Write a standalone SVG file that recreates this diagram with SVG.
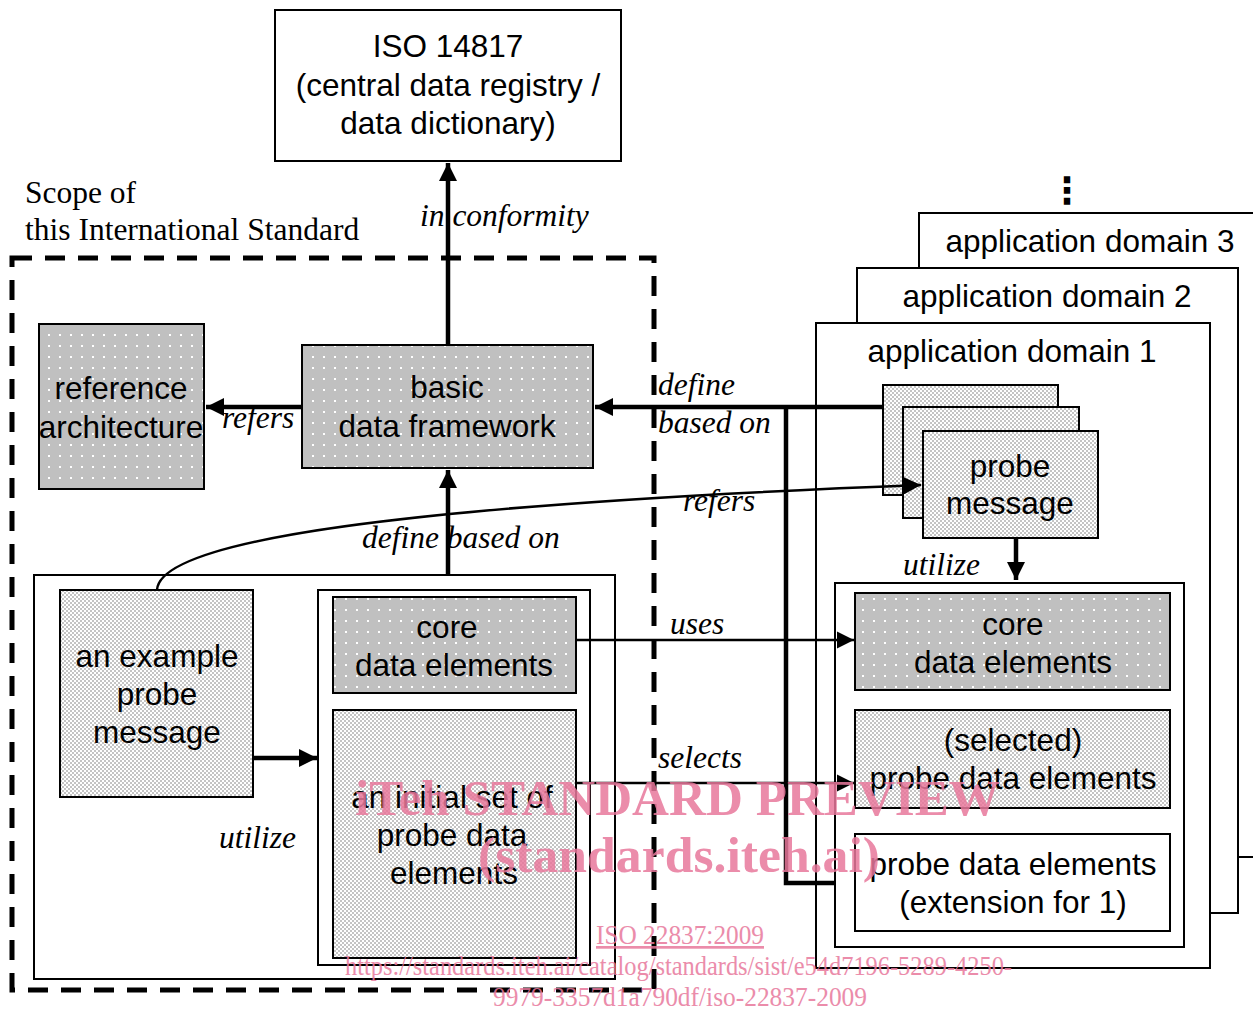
<svg xmlns="http://www.w3.org/2000/svg" width="1253" height="1012" viewBox="0 0 1253 1012">
  <style>
    .box { stroke: #000; stroke-width: 2; }
    .plain { fill: #fff; }
    .dotted { fill: url(#dots); }
    .checked { fill: url(#checker); }
    .lbl { font-family: "Liberation Sans", Arial, sans-serif; font-size: 31.5px; fill: #000; text-anchor: middle; }
    .it { font-family: "Liberation Serif", "Times New Roman", serif; font-size: 31.5px; font-style: italic; fill: #000; }
    .rm { font-family: "Liberation Serif", "Times New Roman", serif; font-size: 31.5px; fill: #000; }
    .thick { stroke: #000; stroke-width: 4.5; fill: none; }
    .thin { stroke: #000; stroke-width: 2.5; fill: none; }
    .wm { font-family: "Liberation Serif", "Times New Roman", serif; fill: #e8789c; opacity: 0.85; }
  </style>
  <defs>
    <pattern id="dots" width="11" height="11" patternUnits="userSpaceOnUse">
      <rect width="11" height="11" fill="#c0c0c0"/>
      <rect x="4" y="4" width="2" height="2" fill="#fff"/>
    </pattern>
    <pattern id="checker" width="4" height="4" patternUnits="userSpaceOnUse">
      <rect width="4" height="4" fill="#fff"/>
      <rect width="2" height="2" fill="#c4c4c4"/>
      <rect x="2" y="2" width="2" height="2" fill="#c4c4c4"/>
    </pattern>
    <marker id="arrow" viewBox="0 0 10 10" refX="10" refY="5" markerWidth="4" markerHeight="4" orient="auto" markerUnits="strokeWidth">
      <path d="M0,0 L10,5 L0,10 Z" fill="#000"/>
    </marker>
    <marker id="arrowThin" viewBox="0 0 10 10" refX="10" refY="5" markerWidth="7" markerHeight="7" orient="auto" markerUnits="strokeWidth">
      <path d="M0,0 L10,5 L0,10 Z" fill="#000"/>
    </marker>
  </defs>

  <rect width="1253" height="1012" fill="#fff"/>

  <!-- central registry -->
  <g id="iso14817">
    <rect class="box plain" x="275" y="10" width="346" height="151"/>
    <text class="lbl" x="448" y="57">ISO 14817</text>
    <text class="lbl" x="448" y="96">(central data registry /</text>
    <text class="lbl" x="448" y="134">data dictionary)</text>
  </g>

  <!-- scope boundary -->
  <g id="scope">
    <text class="rm" x="25" y="203">Scope of</text>
    <text class="rm" x="25" y="240">this International Standard</text>
    <rect x="12" y="258" width="642" height="732" fill="none" stroke="#000" stroke-width="5" stroke-dasharray="20 13"/>
  </g>

  <!-- application domains, back to front -->
  <g id="domain3">
    <rect class="box plain" x="919" y="213" width="345" height="644"/>
    <text class="lbl" x="1090" y="252">application domain 3</text>
  </g>
  <g id="domain2">
    <rect class="box plain" x="857" y="268" width="381" height="645"/>
    <text class="lbl" x="1047" y="307">application domain 2</text>
  </g>
  <g id="domain1">
    <rect class="box plain" x="816" y="323" width="394" height="645"/>
    <text class="lbl" x="1012" y="362">application domain 1</text>
  </g>
  <text class="lbl" x="1067" y="203" style="font-family:'DejaVu Sans',sans-serif;font-size:36px;font-weight:bold">⋮</text>

  <g id="reference-architecture">
    <rect class="box dotted" x="39" y="324" width="165" height="165"/>
    <text class="lbl" x="121" y="399">reference</text>
    <text class="lbl" x="121" y="438">architecture</text>
  </g>

  <g id="basic-data-framework">
    <rect class="box dotted" x="302" y="345" width="291" height="123"/>
    <text class="lbl" x="447" y="398">basic</text>
    <text class="lbl" x="447" y="437">data framework</text>
  </g>

  <!-- standard content -->
  <g id="standard-content">
    <rect class="box plain" x="34" y="575" width="581" height="404"/>
  </g>
  <g id="example-probe-message">
    <rect class="box checked" x="60" y="590" width="193" height="207"/>
    <text class="lbl" x="157" y="667">an example</text>
    <text class="lbl" x="157" y="705">probe</text>
    <text class="lbl" x="157" y="743">message</text>
  </g>
  <g id="data-elements">
    <rect class="box plain" x="318" y="590" width="272" height="375"/>
  </g>
  <g id="core-data-elements">
    <rect class="box dotted" x="333" y="597" width="243" height="96"/>
    <text class="lbl" x="447" y="638">core</text>
    <text class="lbl" x="454" y="676">data elements</text>
  </g>
  <g id="initial-probe-data-elements">
    <rect class="box checked" x="333" y="710" width="243" height="248"/>
    <text class="lbl" x="452" y="808">an initial set of</text>
    <text class="lbl" x="452" y="846">probe data</text>
    <text class="lbl" x="454" y="884">elements</text>
  </g>

  <!-- domain 1 content -->
  <g id="probe-messages">
    <rect class="box checked" x="883" y="385" width="175" height="110"/>
    <rect class="box checked" x="903" y="407" width="176" height="111"/>
    <rect class="box checked" x="923" y="431" width="175" height="107"/>
    <text class="lbl" x="1010" y="477">probe</text>
    <text class="lbl" x="1010" y="514">message</text>
  </g>
  <g id="domain1-elements">
    <rect class="box plain" x="835" y="583" width="349" height="364"/>
  </g>
  <g id="domain1-core">
    <rect class="box dotted" x="855" y="593" width="315" height="97"/>
    <text class="lbl" x="1013" y="635">core</text>
    <text class="lbl" x="1013" y="673">data elements</text>
  </g>
  <g id="domain1-selected">
    <rect class="box checked" x="855" y="710" width="315" height="98"/>
    <text class="lbl" x="1013" y="751">(selected)</text>
    <text class="lbl" x="1013" y="789">probe data elements</text>
  </g>
  <g id="domain1-extension">
    <rect class="box plain" x="855" y="834" width="315" height="97"/>
    <text class="lbl" x="1013" y="875">probe data elements</text>
    <text class="lbl" x="1013" y="913">(extension for 1)</text>
  </g>

  <!-- connectors -->
  <g id="connectors">
    <line class="thick" x1="448" y1="345" x2="448" y2="163" marker-end="url(#arrow)"/>
    <line class="thick" x1="302" y1="407" x2="206" y2="407" marker-end="url(#arrow)"/>
    <line class="thick" x1="448" y1="575" x2="448" y2="470" marker-end="url(#arrow)"/>
    <line class="thick" x1="883" y1="407" x2="595" y2="407" marker-end="url(#arrow)"/>
    <polyline class="thick" points="786,407 786,883 835,883"/>
    <path class="thin" d="M157,590 C160,540 400,505 921,485" marker-end="url(#arrowThin)"/>
    <line class="thick" x1="1016" y1="538" x2="1016" y2="580" marker-end="url(#arrow)"/>
    <line class="thick" x1="253" y1="758" x2="317" y2="758" marker-end="url(#arrow)"/>
    <line class="thin" x1="576" y1="640" x2="854" y2="640" marker-end="url(#arrowThin)"/>
    <line class="thin" x1="576" y1="783" x2="854" y2="783" marker-end="url(#arrowThin)"/>

    <text class="it" x="420" y="226">in conformity</text>
    <text class="it" x="222" y="428">refers</text>
    <text class="it" x="658" y="395">define</text>
    <text class="it" x="658" y="433">based on</text>
    <text class="it" x="683" y="511">refers</text>
    <text class="it" x="362" y="548">define based on</text>
    <text class="it" x="903" y="575">utilize</text>
    <text class="it" x="670" y="634">uses</text>
    <text class="it" x="658" y="768">selects</text>
    <text class="it" x="219" y="848">utilize</text>
  </g>

  <!-- publisher stamp -->
  <g id="stamp">
    <text class="wm" x="355" y="815" font-size="50" font-weight="bold" textLength="645" lengthAdjust="spacingAndGlyphs">iTeh STANDARD PREVIEW</text>
    <text class="wm" x="478" y="872" font-size="50" font-weight="bold" textLength="402" lengthAdjust="spacingAndGlyphs">(standards.iteh.ai)</text>
    <text class="wm" x="596" y="944" font-size="27" textLength="168" lengthAdjust="spacingAndGlyphs" text-decoration="underline">ISO 22837:2009</text>
    <text class="wm" x="345" y="975" font-size="27" textLength="667" lengthAdjust="spacingAndGlyphs">https://standards.iteh.ai/catalog/standards/sist/e54d7196-5289-4250-</text>
    <text class="wm" x="493" y="1006" font-size="27" textLength="374" lengthAdjust="spacingAndGlyphs">9979-3357d1a790df/iso-22837-2009</text>
  </g>
</svg>
